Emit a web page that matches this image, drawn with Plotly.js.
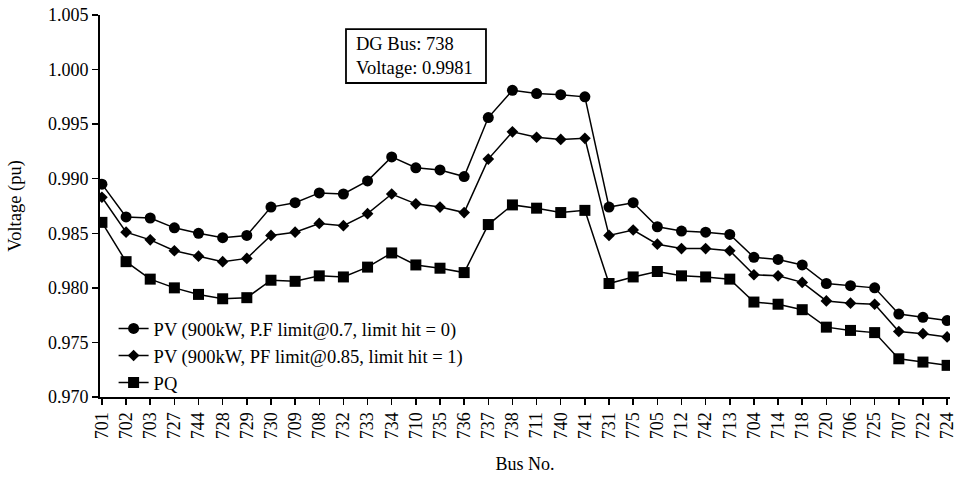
<!DOCTYPE html>
<html>
<head>
<meta charset="utf-8">
<script src="https://cdn.plot.ly/plotly-3.0.1.min.js"></script>
<style>html,body{margin:0;padding:0;background:#fff;}#chart{width:968px;height:482px;}</style>
</head>
<body>
<div id="chart"></div>
<script>
const buses = ['701','702','703','727','744','728','729','730','709','708','732','733','734','710','735','736','737','738','711','740','741','731','775','705','712','742','713','704','714','718','720','706','725','707','722','724'];

const pv07 = [0.9895,0.9865,0.9864,0.9855,0.9850,0.9846,0.9848,0.9874,0.9878,0.9887,0.9886,0.9898,0.9920,0.9910,0.9908,0.9902,0.9956,0.9981,0.9978,0.9977,0.9975,0.9874,0.9878,0.9856,0.9852,0.9851,0.9849,0.9828,0.9826,0.9821,0.9804,0.9802,0.9800,0.9776,0.9773,0.9770];

const pv085 = [0.9883,0.9851,0.9844,0.9834,0.9829,0.9824,0.9827,0.9848,0.9851,0.9859,0.9857,0.9868,0.9886,0.9877,0.9874,0.9869,0.9918,0.9943,0.9938,0.9936,0.9937,0.9848,0.9853,0.9840,0.9836,0.9836,0.9834,0.9812,0.9811,0.9805,0.9788,0.9786,0.9785,0.9760,0.9758,0.9755];

const pq = [0.9860,0.9824,0.9808,0.9800,0.9794,0.9790,0.9791,0.9807,0.9806,0.9811,0.9810,0.9819,0.9832,0.9821,0.9818,0.9814,0.9858,0.9876,0.9873,0.9869,0.9871,0.9804,0.9810,0.9815,0.9811,0.9810,0.9808,0.9787,0.9785,0.9780,0.9764,0.9761,0.9759,0.9735,0.9732,0.9729];

const seriesNames = ['PV (900kW, P.F limit@0.7, limit hit = 0)','PV (900kW, PF limit@0.85, limit hit = 1)','PQ'];
const yTicks = [0.970,0.975,0.980,0.985,0.990,0.995,1.000,1.005];
const noteText = 'DG Bus: 738<br>Voltage: 0.9981';

const FONT = '"Liberation Serif", "Times New Roman", serif';
const mk = (y, name, symbol, size) => ({
  x: buses, y: y, name: name, type: 'scatter', mode: 'lines+markers',
  line: {color: '#000', width: 1.5},
  marker: {symbol: symbol, size: size, color: '#000'}
});

const data = [
  mk(pv07, seriesNames[0], 'circle', 11),
  mk(pv085, seriesNames[1], 'diamond', 9),
  mk(pq, seriesNames[2], 'square', 11)
];

const layout = {
  width: 968, height: 482,
  margin: {l: 100, r: 18, t: 15, b: 85},
  paper_bgcolor: '#fff', plot_bgcolor: '#fff',
  font: {family: FONT, color: '#000', size: 18},
  showlegend: true,
  legend: {x: 0.016, y: 0.228, xanchor: 'left', yanchor: 'top', bgcolor: 'rgba(0,0,0,0)', font: {size: 18.5, family: FONT}},
  xaxis: {
    type: 'category', range: [-0.08, 35.12],
    showline: true, linecolor: '#000', linewidth: 2,
    ticks: 'outside', ticklen: 6, tickwidth: 1.5, tickcolor: '#000',
    tickangle: -90, tickfont: {size: 18, family: FONT},
    showgrid: false, zeroline: false,
    title: {text: 'Bus No.', font: {size: 18, family: FONT}, standoff: 19}
  },
  yaxis: {
    range: [0.970, 1.005], tickvals: yTicks, tickformat: '.3f',
    showline: true, linecolor: '#000', linewidth: 2,
    ticks: 'outside', ticklen: 6, tickwidth: 1.5, tickcolor: '#000',
    tickfont: {size: 18, family: FONT},
    showgrid: false, zeroline: false,
    title: {text: 'Voltage (pu)', font: {size: 18.5, family: FONT}, standoff: 21}
  },
  shapes: [{
    type: 'rect', xref: 'paper', yref: 'paper',
    x0: 0.2894, x1: 0.4541, y0: 0.822, y1: 0.963,
    line: {color: '#000', width: 1.8}, fillcolor: '#fff', layer: 'above'
  }],
  annotations: [{
    xref: 'paper', yref: 'paper', x: 0.299, y: 0.893, xanchor: 'left', yanchor: 'middle',
    text: noteText, showarrow: false, align: 'left',
    font: {size: 18.5, family: FONT, color: '#000'}
  }]
};

Plotly.newPlot('chart', data, layout, {displayModeBar: false, staticPlot: true});
</script>
</body>
</html>
